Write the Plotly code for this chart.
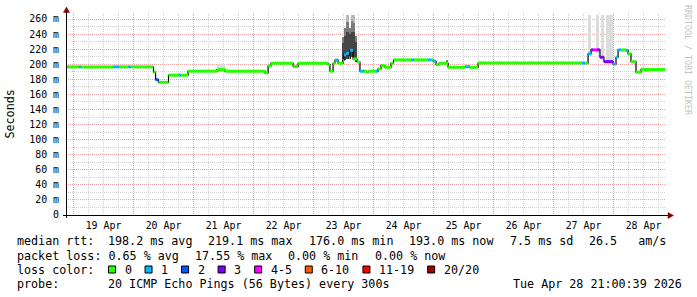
import pandas as pd
import plotly.graph_objects as go

# ---------------- data ----------------
run_start = [
    "2026-04-18 21:00", "2026-04-19 02:10", "2026-04-19 02:50", "2026-04-19 15:50",
    "2026-04-19 18:10", "2026-04-19 22:00", "2026-04-19 22:55", "2026-04-20 08:00",
    "2026-04-20 08:50", "2026-04-20 10:00", "2026-04-20 14:00", "2026-04-20 18:10",
    "2026-04-20 18:55", "2026-04-20 21:50", "2026-04-21 09:25", "2026-04-21 12:35",
    "2026-04-22 04:35", "2026-04-22 05:50", "2026-04-22 07:00", "2026-04-22 15:50",
    "2026-04-22 17:50", "2026-04-23 05:50", "2026-04-23 06:35", "2026-04-23 07:50",
    "2026-04-23 08:35", "2026-04-23 09:50", "2026-04-23 11:50", "2026-04-23 12:10",
    "2026-04-23 13:00", "2026-04-23 14:10", "2026-04-23 14:35", "2026-04-23 15:50",
    "2026-04-23 17:25", "2026-04-23 18:35", "2026-04-23 20:10", "2026-04-23 21:00",
    "2026-04-23 22:10", "2026-04-24 01:00", "2026-04-24 01:50", "2026-04-24 03:00",
    "2026-04-24 04:35", "2026-04-24 07:00", "2026-04-24 08:00", "2026-04-24 15:00",
    "2026-04-24 16:00", "2026-04-24 21:50", "2026-04-24 23:00", "2026-04-24 23:50",
    "2026-04-25 01:00", "2026-04-25 02:10", "2026-04-25 05:50", "2026-04-25 12:35",
    "2026-04-25 14:35", "2026-04-25 17:50", "2026-04-27 11:25", "2026-04-27 12:35",
    "2026-04-27 13:50", "2026-04-27 15:00", "2026-04-27 15:50", "2026-04-27 17:25",
    "2026-04-27 18:35", "2026-04-27 20:10", "2026-04-27 23:50", "2026-04-28 01:00",
    "2026-04-28 01:50", "2026-04-28 03:00", "2026-04-28 05:00", "2026-04-28 05:50",
    "2026-04-28 07:00", "2026-04-28 09:00", "2026-04-28 11:00",
]
run_median = [
    196.5, 196.5, 196.5, 196.5, 196.5, 196.5, 196.5, 189.5,
    179.5, 176.0, 185.5, 185.5, 185.5, 190.8, 193.0, 190.8,
    188.5, 198.0, 201.3, 197.0, 201.3, 199.5, 190.8, 201.3,
    205.5, 201.3, 205.0, 212.5, 214.5, 208.5, 218.5, 207.0,
    203.0, 190.8, 190.8, 189.8, 190.8, 190.8, 193.8, 198.3,
    196.0, 201.3, 205.8, 205.8, 205.8, 205.8, 205.8, 204.0,
    199.5, 201.3, 196.0, 196.8, 196.0, 201.5, 201.5, 201.5,
    213.8, 219.1, 219.1, 219.1, 209.3, 203.5, 200.3, 209.3,
    219.0, 219.0, 218.5, 213.8, 203.5, 189.5, 193.0,
]
run_loss = [
    0, 1, 0, 1, 0, 1, 0, 0,
    2, 0, 0, 1, 0, 0, 0, 0,
    0, 0, 0, 0, 0, 0, 0, 0,
    1, 0, 0, 1, 1, 0, 1, 0,
    0, 1, 0, 0, 0, 1, 0, 0,
    0, 0, 0, 1, 0, 1, 0, 1,
    0, 0, 0, 1, 0, 0, 1, 0,
    1, 3, 4, 3, 3, 3, 1, 1,
    1, 0, 1, 0, 0, 0, 0,
]
run_end = "2026-04-28 20:35"

smoke_start = [
    "2026-04-21 09:25",
    "2026-04-23 11:25", "2026-04-23 11:25", "2026-04-23 12:10", "2026-04-23 12:10",
    "2026-04-23 13:00", "2026-04-23 13:00", "2026-04-23 13:00", "2026-04-23 14:10",
    "2026-04-23 14:10", "2026-04-23 15:00", "2026-04-23 15:00", "2026-04-23 15:00",
    "2026-04-23 15:50", "2026-04-23 15:50", "2026-04-23 15:50", "2026-04-23 16:35",
    "2026-04-23 16:35",
    "2026-04-25 05:00",
    "2026-04-27 13:50", "2026-04-27 17:00", "2026-04-27 19:00", "2026-04-27 21:00",
]
smoke_end = [
    "2026-04-21 12:35",
    "2026-04-23 12:10", "2026-04-23 12:10", "2026-04-23 13:00", "2026-04-23 13:00",
    "2026-04-23 14:10", "2026-04-23 14:10", "2026-04-23 14:10", "2026-04-23 15:00",
    "2026-04-23 15:00", "2026-04-23 15:50", "2026-04-23 15:50", "2026-04-23 15:50",
    "2026-04-23 16:35", "2026-04-23 16:35", "2026-04-23 16:35", "2026-04-23 17:25",
    "2026-04-23 17:25",
    "2026-04-25 05:50",
    "2026-04-27 15:00", "2026-04-27 18:10", "2026-04-27 20:10", "2026-04-27 23:50",
]
smoke_low = [
    189.5,
    203, 228, 205, 238,
    207, 243, 256, 207,
    240, 210, 243, 258,
    208, 243, 255, 203,
    230,
    201.5,
    212, 215, 207, 201,
]
smoke_high = [
    200.5,
    228, 236, 238, 248,
    243, 256, 265, 240,
    248, 243, 258, 265,
    243, 255, 265, 230,
    238,
    205,
    265, 265, 265, 265,
]
# 0 = dark, 1 = medium, 2 = light, 3 = pale
smoke_shade = [
    3,
    0, 1, 0, 1,
    0, 1, 2, 0,
    1, 0, 1, 2,
    0, 1, 2, 0,
    1,
    1,
    3, 3, 3, 3,
]

loss_labels = ["0", "1", "2", "3", "4-5", "6-10", "11-19", "20/20"]
y_tick_values = [0, 20, 40, 60, 80, 100, 120, 140, 160, 180, 200, 220, 240, 260]
y_tick_labels = ["0", "20 m", "40 m", "60 m", "80 m", "100 m", "120 m", "140 m",
                 "160 m", "180 m", "200 m", "220 m", "240 m", "260 m"]

stats_rtt = ["median rtt:", "198.2 ms avg", "219.1 ms max", "176.0 ms min",
             "193.0 ms now", "7.5 ms sd", "26.5   am/s"]
stats_loss = ["packet loss: 0.65 % avg", "17.55 % max", "0.00 % min", "0.00 % now"]
probe_text = "20 ICMP Echo Pings (56 Bytes) every 300s"
stamp_text = "Tue Apr 28 21:00:39 2026"

# ---------------- styles ----------------
loss_colors = ["#26ff00", "#00b8ff", "#0059ff", "#7e00ff",
               "#ff00ff", "#ff5500", "#ff0000", "#a10000"]
shade_colors = ["#454545", "#7c7c7c", "#b8b8b8", "#dcdcdc"]
MONO = "DejaVu Sans Mono"

W, H = 697, 297
L, R, T, B = 66, 31, 13, 82
PW, PH = W - L - R, H - T - B


def px_x(px):
    return (px - L) / PW


def px_y(py):
    return (T + PH - py) / PH


fig = go.Figure()

# smoke
s_start = pd.to_datetime(smoke_start)
s_end = pd.to_datetime(smoke_end)
for shade in range(len(shade_colors)):
    idx = [i for i, s in enumerate(smoke_shade) if s == shade]
    if not idx:
        continue
    mids = [s_start[i] + (s_end[i] - s_start[i]) / 2 for i in idx]
    widths = [(s_end[i] - s_start[i]).total_seconds() * 1000 for i in idx]
    fig.add_trace(go.Bar(
        x=mids, y=[smoke_high[i] - smoke_low[i] for i in idx],
        base=[smoke_low[i] for i in idx], width=widths,
        marker=dict(color=shade_colors[shade], line=dict(width=0)),
        hoverinfo="skip", showlegend=False))

# black step line of the median
fig.add_trace(go.Scatter(
    x=run_start + [run_end], y=run_median + [run_median[-1]],
    mode="lines", line=dict(color="#000000", width=1.2, shape="hv"),
    hoverinfo="skip", showlegend=False))

# coloured median segments per loss class
ends = run_start[1:] + [run_end]
for cls in range(len(loss_colors)):
    xs, ys = [], []
    for i, c in enumerate(run_loss):
        if c == cls:
            xs += [run_start[i], ends[i], None]
            ys += [run_median[i], run_median[i], None]
    if xs:
        fig.add_trace(go.Scatter(
            x=xs, y=ys, mode="lines",
            line=dict(color=loss_colors[cls], width=3),
            hoverinfo="skip", showlegend=False))

MAJOR = "#e8a4a4"
MINOR = "#d2d2d2"

fig.update_xaxes(
    type="date", range=["2026-04-18 21:00", "2026-04-28 21:00"],
    tick0="2026-04-19", dtick=86400000, ticklabelmode="period",
    tickformat="%d %b", showgrid=True, gridcolor=MAJOR, griddash="1px,1px",
    gridwidth=1, ticks="", showline=False, zeroline=False, ticklabelstandoff=3,
    tickfont=dict(family=MONO, size=9.9, color="#000000"),
    minor=dict(tick0="2026-04-19", dtick=21600000, showgrid=True,
               gridcolor=MINOR, griddash="1px,1px", gridwidth=1, ticks=""),
)
fig.update_yaxes(
    range=[0, 268], tickmode="array", tickvals=y_tick_values, ticktext=y_tick_labels,
    showgrid=True, gridcolor=MAJOR, griddash="1px,1px", gridwidth=1,
    ticks="", showline=False, zeroline=False, ticklabelstandoff=6,
    tickfont=dict(family=MONO, size=9.9, color="#000000"),
    minor=dict(tickmode="linear", tick0=0, dtick=10, showgrid=True,
               gridcolor=MINOR, griddash="1px,1px", gridwidth=1, ticks=""),
)

shapes = []
# axes
shapes.append(dict(type="line", xref="paper", yref="paper",
                   x0=px_x(63), x1=px_x(669), y0=px_y(215.5), y1=px_y(215.5),
                   line=dict(color="#000000", width=1)))
shapes.append(dict(type="line", xref="paper", yref="paper",
                   x0=px_x(66.5), x1=px_x(66.5), y0=px_y(218), y1=px_y(11),
                   line=dict(color="#000000", width=1)))
# arrows
shapes.append(dict(type="path", xref="paper", yref="paper",
                   path=f"M {px_x(668)} {px_y(212.5)} L {px_x(673.5)} {px_y(215.5)} L {px_x(668)} {px_y(218.5)} Z",
                   fillcolor="#7f0000", line=dict(color="#7f0000", width=0.5)))
shapes.append(dict(type="path", xref="paper", yref="paper",
                   path=f"M {px_x(63.5)} {px_y(12.5)} L {px_x(66.5)} {px_y(7)} L {px_x(69.5)} {px_y(12.5)} Z",
                   fillcolor="#7f0000", line=dict(color="#7f0000", width=0.5)))

annotations = []


def text(px, py, s, size=11.7, anchor="left", color="#000000", angle=0, yanchor="middle"):
    annotations.append(dict(
        x=px_x(px), y=px_y(py), xref="paper", yref="paper", text=s, showarrow=False,
        xanchor=anchor, yanchor=yanchor, textangle=angle, borderpad=0,
        font=dict(family=MONO, size=size, color=color)))


# legend rows
row_y = [241, 255.5, 269.5, 283.5]
CH = 7.04
GAP = 16
x = 16
for i, s in enumerate(stats_rtt):
    if i == 1:
        x = 107
    text(x, row_y[0], s.replace(" ", "&nbsp;") if "   " in s else s)
    x += len(s) * CH + GAP
x = 16
for s in stats_loss:
    text(x, row_y[1], s)
    x += len(s) * CH + GAP

text(16, row_y[2], "loss color:")
bx = 108
for lab, col in zip(loss_labels, loss_colors):
    shapes.append(dict(type="rect", xref="paper", yref="paper",
                       x0=px_x(bx + 0.5), x1=px_x(bx + 7.5),
                       y0=px_y(row_y[2] + 3.5), y1=px_y(row_y[2] - 3.5),
                       fillcolor=col, line=dict(color="#000000", width=1)))
    text(bx + 15.5, row_y[2], lab)
    bx += 15.5 + len(lab) * CH + GAP - 2

text(16, row_y[3], "probe:")
text(107, row_y[3], probe_text)
text(683, row_y[3], stamp_text, anchor="right")

# axis title and watermark
text(9.5, 114, "Seconds", angle=-90, anchor="center")
text(688, 4, "RRDTOOL / TOBI OETIKER", size=8.3, anchor="center",
     color="#c4c4c4", angle=90, yanchor="top")

fig.update_layout(
    width=W, height=H, autosize=False,
    margin=dict(l=L, r=R, t=T, b=B, pad=0),
    paper_bgcolor="#ffffff", plot_bgcolor="#ffffff",
    barmode="overlay", bargap=0, showlegend=False,
    shapes=shapes, annotations=annotations,
)

fig.write_html("out.html")
